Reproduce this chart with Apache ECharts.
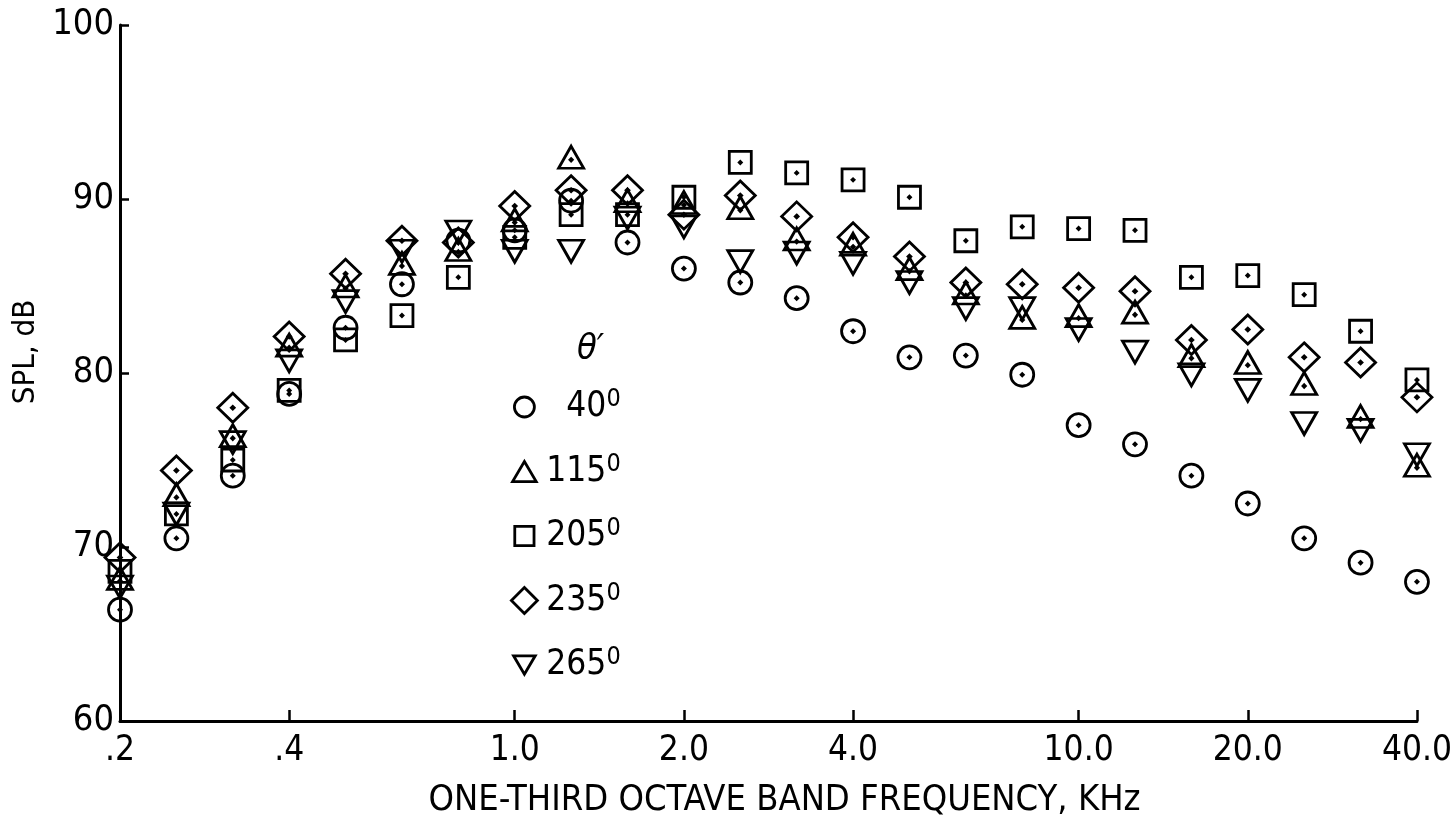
<!DOCTYPE html>
<html>
<head>
<meta charset="utf-8">
<script src="https://cdn.jsdelivr.net/npm/echarts@6/dist/echarts.min.js"></script>
<style>
  html, body { margin: 0; padding: 0; background: #fff; }
  #chart { width: 1455px; height: 832px; }
</style>
</head>
<body>
<div id="chart"></div>
<script>
// one-third octave bands, kHz
const bands = ['0.2', '0.25', '0.315', '0.4', '0.5', '0.63', '0.8', '1.0', '1.25', '1.6', '2.0', '2.5',
  '3.15', '4.0', '5.0', '6.3', '8.0', '10.0', '12.5', '16', '20.0', '25', '31.5', '40.0'];
const labeledBands = ['0.2', '0.4', '1.0', '2.0', '4.0', '10.0', '20.0', '40.0'];
const bandLabels = ['.2', '.4', '1.0', '2.0', '4.0', '10.0', '20.0', '40.0'];

const angles = ['40', '115', '205', '235', '265'];

// SPL, dB for each angle
const spl40 = [66.4, 70.5, 74.1, 78.8, 82.6, 85.1, 87.6, 88.2, 89.9, 87.5, 86.0, 85.2,
  84.3, 82.4, 80.9, 81.0, 79.9, 77.0, 75.9, 74.1, 72.5, 70.5, 69.1, 68.0];
const spl115 = [68.2, 73.0, 76.4, 81.6, 85.0, 86.3, 87.1, 88.8, 92.4, 89.9, 89.8, 89.5,
  87.7, 87.4, 86.0, 84.6, 83.2, 83.3, 83.5, 81.0, 80.6, 79.4, 77.5, 74.7];
const spl205 = [68.6, 71.9, 75.0, 79.0, 81.9, 83.3, 85.5, 87.8, 89.1, 89.1, 90.1, 92.1,
  91.5, 91.1, 90.1, 87.6, 88.4, 88.3, 88.2, 85.5, 85.6, 84.5, 82.4, 79.6];
const spl235 = [69.4, 74.4, 78.0, 82.1, 85.7, 87.6, 87.5, 89.6, 90.5, 90.5, 89.1, 90.2,
  89.0, 87.8, 86.7, 85.2, 85.1, 84.9, 84.7, 81.9, 82.5, 80.9, 80.6, 78.6];
const spl265 = [67.7, 71.9, 76.0, 80.7, 84.1, 87.0, 88.1, 87.0, 87.0, 88.9, 88.4, 86.4,
  86.9, 86.3, 85.2, 83.7, 83.7, 82.5, 81.2, 79.9, 79.0, 77.1, 76.7, 75.3];

const FONT = "'Liberation Sans Narrow', 'DejaVu Sans Condensed', 'Arial Narrow', sans-serif";

// open markers with a centre dot (the tiny stroked diamond is the dot)
const dot = (cx, cy) => ` M${cx},${cy - 0.9} L${cx + 0.9},${cy} L${cx},${cy + 0.9} L${cx - 0.9},${cy} Z`;
const shapes = [
  'M0,10 A10,10 0 1,0 20,10 A10,10 0 1,0 0,10 Z',
  'M10,0 L20,17 L0,17 Z',
  'M0,0 L20,0 L20,20 L0,20 Z',
  'M10,0 L20,10 L10,20 L0,10 Z',
  'M0,0 L20,0 L10,17 Z'
];
const markerPaths = [
  'path://' + shapes[0] + dot(10, 10),
  'path://' + shapes[1] + dot(10, 10.5),
  'path://' + shapes[2] + dot(10, 10),
  'path://' + shapes[3] + dot(10, 10),
  'path://' + shapes[4]
];
// legend icons: invisible zero-length strokes widen the box so the diamond comes out larger
const legendIcons = [
  'path://' + shapes[0] + ' M-3,-3 L-3,-3 M23,23 L23,23',
  'path://' + shapes[1] + ' M-1,-2 L-1,-2 M21,19 L21,19',
  'path://' + shapes[2] + ' M-3.5,-3.5 L-3.5,-3.5 M23.5,23.5 L23.5,23.5',
  'path://' + shapes[3],
  'path://' + shapes[4] + ' M-2,-3 L-2,-3 M22,20 L22,20'
];
const markerSizes = [23, [25, 22], 22, [30, 29], [25, 22]];
const sets = [spl40, spl115, spl205, spl235, spl265];

const chart = echarts.init(document.getElementById('chart'));

chart.setOption({
  animation: false,
  backgroundColor: '#fff',
  grid: { left: 120, right: 33, top: 25, bottom: 111 },
  xAxis: {
    type: 'category',
    data: bands,
    boundaryGap: false,
    axisLine: { lineStyle: { color: '#000', width: 3 } },
    axisTick: {
      inside: true, length: 11,
      interval: (i, v) => labeledBands.includes(v),
      lineStyle: { color: '#000', width: 2.5 }
    },
    axisLabel: {
      interval: (i, v) => labeledBands.includes(v),
      formatter: v => bandLabels[labeledBands.indexOf(v)],
      color: '#000', fontFamily: FONT, fontSize: 35, margin: 12
    },
    splitLine: { show: false },
    name: 'ONE-THIRD OCTAVE BAND FREQUENCY, KHz',
    nameLocation: 'middle',
    nameGap: 62,
    nameTextStyle: { color: '#000', fontFamily: FONT, fontSize: 36, padding: [0, 0, 0, 32] }
  },
  yAxis: {
    type: 'value',
    min: 60, max: 100, interval: 10,
    axisLine: { show: true, lineStyle: { color: '#000', width: 3 } },
    axisTick: { show: true, inside: true, length: 9, lineStyle: { color: '#000', width: 2.5 } },
    axisLabel: { color: '#000', fontFamily: FONT, fontSize: 36, margin: 6 },
    splitLine: { show: false },
    name: 'SPL, dB',
    nameLocation: 'middle',
    nameGap: 76,
    nameTextStyle: { color: '#000', fontFamily: FONT, fontSize: 31, padding: [0, 0, 0, 42] }
  },
  legend: {
    orient: 'vertical',
    left: 505, top: 382,
    itemWidth: 26, itemHeight: 26, itemGap: 27,
    selectedMode: false,
    data: angles.map((a, k) => ({ name: a, icon: legendIcons[k] })),
    itemStyle: { color: 'rgba(0,0,0,0)', borderColor: '#000', borderWidth: 2.8, opacity: 1 },
    formatter: name => `{n|${name}}{s|0}`,
    textStyle: {
      color: '#000',
      rich: {
        n: { fontFamily: FONT, fontSize: 35, lineHeight: 40, width: 64, align: 'right', color: '#000' },
        s: { fontFamily: FONT, fontSize: 25, lineHeight: 18, align: 'right', verticalAlign: 'top', color: '#000' }
      }
    }
  },
  graphic: [{
    type: 'text', left: 577, top: 332,
    style: { text: '\u03b8\u2032', font: 'italic 36px ' + FONT, fill: '#000' }
  }],
  series: angles.map((a, k) => ({
    name: a,
    type: 'scatter',
    data: sets[k],
    symbol: markerPaths[k],
    symbolSize: markerSizes[k],
    clip: false,
    itemStyle: { color: 'rgba(0,0,0,0)', borderColor: '#000', borderWidth: 2.8, opacity: 1 },
    emphasis: { disabled: true }
  }))
});
</script>
</body>
</html>
